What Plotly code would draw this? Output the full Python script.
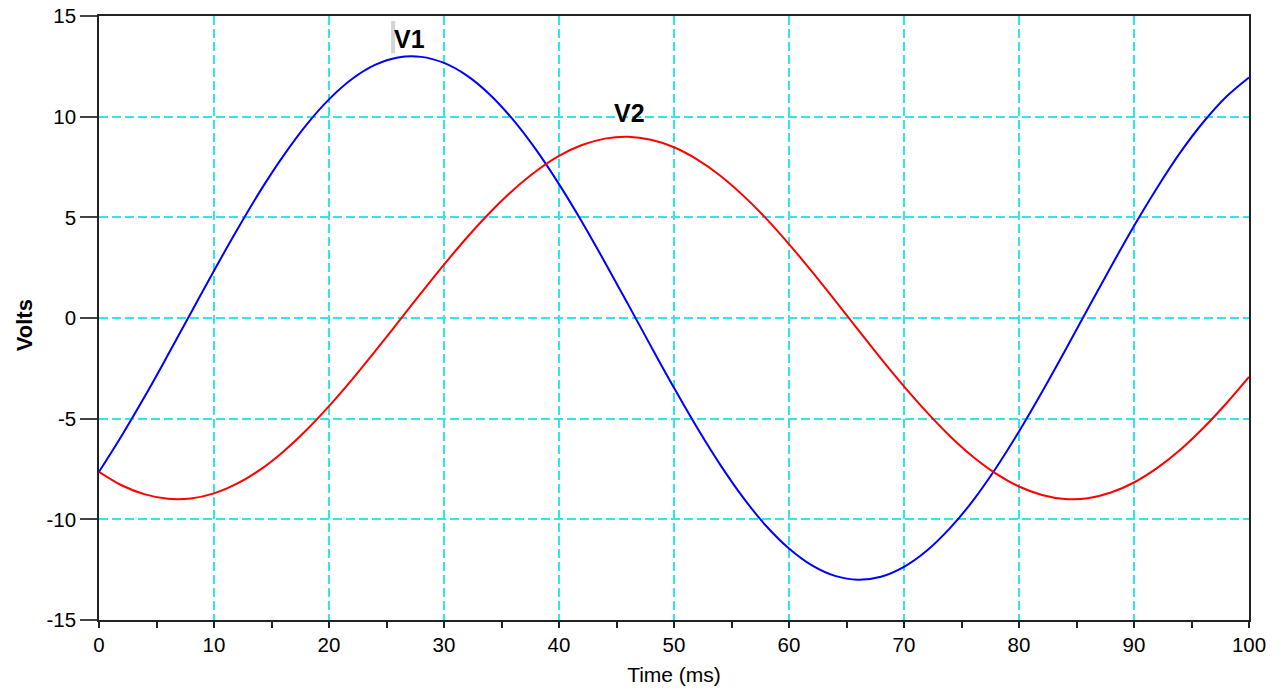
import plotly.graph_objects as go

# Time axis (ms) and voltages
time_ms = [0, 2, 4, 6, 8, 10, 12, 14, 16, 18, 20, 22, 24, 26, 28, 30, 32, 34, 36, 38,
           40, 42, 44, 46, 48, 50, 52, 54, 56, 58, 60, 62, 64, 66, 68, 70, 72, 74, 76, 78,
           80, 82, 84, 86, 88, 90, 92, 94, 96, 98, 100]

v1 = [-7.64, -5.82, -3.88, -1.83, 0.26, 2.35, 4.37, 6.29, 8.03, 9.57,
      10.86, 11.87, 12.57, 12.94, 12.97, 12.67, 12.04, 11.09, 9.85, 8.36,
      6.65, 4.77, 2.76, 0.69, -1.41, -3.47, -5.44, -7.27, -8.91, -10.32,
      -11.45, -12.29, -12.81, -13.00, -12.85, -12.36, -11.55, -10.44, -9.07, -7.45,
      -5.64, -3.68, -1.63, 0.47, 2.55, 4.57, 6.46, 8.20, 9.71, 10.98,
      11.95]

v2 = [-7.64, -8.32, -8.76, -8.98, -8.96, -8.71, -8.23, -7.54, -6.65, -5.59,
      -4.38, -3.06, -1.66, -0.22, 1.23, 2.65, 4.00, 5.24, 6.35, 7.29,
      8.05, 8.59, 8.91, 9.00, 8.85, 8.48, 7.88, 7.08, 6.09, 4.95,
      3.67, 2.30, 0.87, -0.58, -2.02, -3.40, -4.69, -5.87, -6.89, -7.73,
      -8.37, -8.79, -8.99, -8.95, -8.67, -8.17, -7.46, -6.56, -5.48, -4.26,
      -2.93]

series_names = ["V1", "V2"]
label_x = [27.0, 46.1]
label_y = [13.85, 10.2]

x_tickvals = [0, 10, 20, 30, 40, 50, 60, 70, 80, 90, 100]
x_ticktext = ["0", "10", "20", "30", "40", "50", "60", "70", "80", "90", "100"]
y_tickvals = [-15, -10, -5, 0, 5, 10, 15]
y_ticktext = ["-15", "-10", "-5", "0", "5", "10", "15"]

FONT = "Liberation Sans, Arial, sans-serif"
GRID = "#30E6E6"

fig = go.Figure()
fig.add_trace(go.Scatter(x=time_ms, y=v1, mode="lines", name="V1",
                         line=dict(color="#0000FF", width=2, shape="spline")))
fig.add_trace(go.Scatter(x=time_ms, y=v2, mode="lines", name="V2",
                         line=dict(color="#FF0000", width=2, shape="spline")))

for name, lx, ly in zip(series_names, label_x, label_y):
    fig.add_annotation(x=lx, y=ly, text="<b>" + name + "</b>", showarrow=False,
                       font=dict(family=FONT, size=25, color="#000000"),
                       xanchor="center", yanchor="middle")

# y-axis title placed as a rotated annotation
fig.add_annotation(xref="paper", yref="paper", x=-0.0652, y=0.488,
                   text="<b>Volts</b>", textangle=-90, showarrow=False,
                   font=dict(family=FONT, size=22, color="#000000"),
                   xanchor="center", yanchor="middle")

# small grey cursor mark beside the V1 label
fig.add_shape(type="rect", x0=25.4, x1=25.75, y0=13.15, y1=14.75,
              fillcolor="#d4d4d4", line=dict(width=0), layer="above")

fig.update_layout(
    width=1283, height=690,
    margin=dict(l=99, r=34, t=16, b=70, autoexpand=False),
    paper_bgcolor="white", plot_bgcolor="white",
    showlegend=False,
    font=dict(family=FONT, size=20, color="#000000"),
)

fig.update_xaxes(
    range=[0, 100], tickmode="array", tickvals=x_tickvals, ticktext=x_ticktext,
    tickfont=dict(family=FONT, size=20.5, color="#000000"),
    ticklabeloverflow="allow",
    showline=True, linecolor="#222222", linewidth=1.5, mirror=True,
    ticks="outside", ticklen=6, tickcolor="#222222", tickwidth=1.5,
    minor=dict(dtick=5, tick0=0, ticks="outside", ticklen=6, tickcolor="#222222",
               tickwidth=1.5, showgrid=False),
    showgrid=True, gridcolor=GRID, griddash="9px,4px", gridwidth=1.5,
    zeroline=False, automargin=False,
    title=dict(text="Time (ms)", font=dict(family=FONT, size=21), standoff=12),
)
fig.update_yaxes(
    range=[-15, 15], tickmode="array", tickvals=y_tickvals, ticktext=y_ticktext,
    tickfont=dict(family=FONT, size=20.5, color="#000000"),
    ticklabeloverflow="allow",
    showline=True, linecolor="#222222", linewidth=1.5, mirror=True,
    ticks="outside", ticklen=17, tickcolor="#444444", tickwidth=1.5,
    showgrid=True, gridcolor=GRID, griddash="9px,4px", gridwidth=1.5,
    zeroline=False, automargin=False,
)

# remove the default page margin so the figure sits at the window's corner
fig.write_html("out.html",
               config={"displayModeBar": False},
               post_script="document.body.style.margin='0';")
